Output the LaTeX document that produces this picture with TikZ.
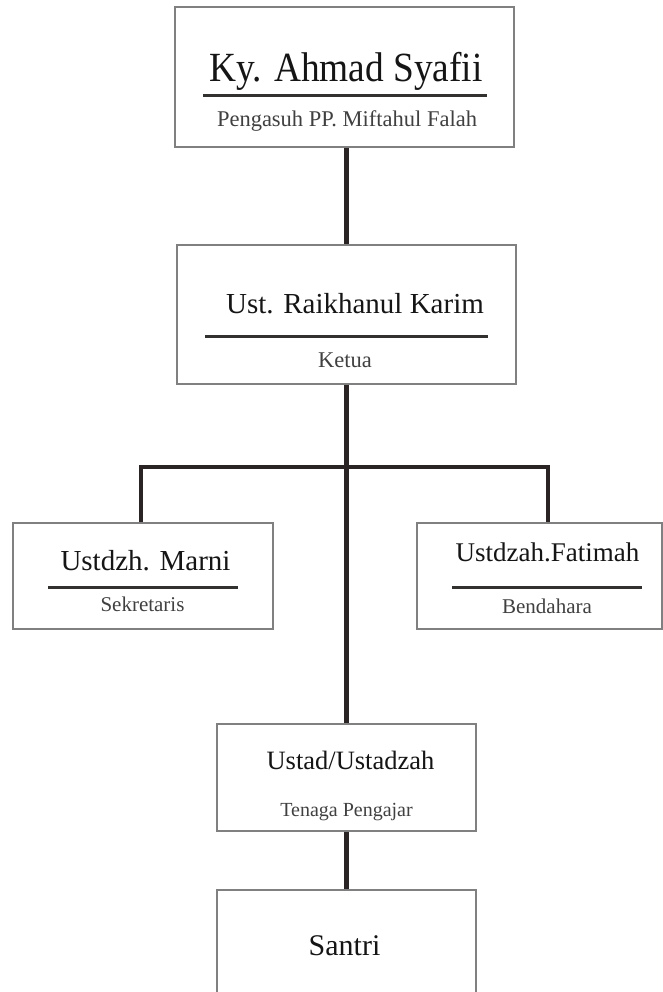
\documentclass[tikz,border=0pt]{standalone}
\usepackage{fontspec}
\usepackage{graphicx}
\setmainfont{Liberation Serif}
\definecolor{boxline}{HTML}{808080}
\definecolor{connline}{HTML}{2B2424}
\definecolor{ruleline}{HTML}{333030}
\definecolor{titletext}{HTML}{151515}
\definecolor{subtext}{HTML}{404040}
\tikzset{
  orgbox/.style={draw=boxline, line width=1.5pt, fill=white, rectangle, inner sep=0pt},
  conn/.style={draw=connline, line width=4.5pt, line join=miter},
  rulebar/.style={draw=ruleline, line width=3pt},
  ttl/.style={inner sep=0pt, anchor=base, text=titletext},
  sub/.style={inner sep=0pt, anchor=base, text=subtext},
}
\newcommand{\fs}[1]{\fontsize{#1}{#1}\selectfont}
\begin{document}
\begin{tikzpicture}[x=1pt,y=-1pt]
\clip (0,0) rectangle (663,992);
\fill[white] (0,0) rectangle (663,992);

% boxes
\node[orgbox, minimum width=339pt, minimum height=140pt] (b1) at (344.5,77) {};
\node[orgbox, minimum width=339pt, minimum height=139pt] (b2) at (346.5,314.5) {};
\node[orgbox, minimum width=260pt, minimum height=106pt] (lb) at (143,576) {};
\node[orgbox, minimum width=245pt, minimum height=106pt] (rb) at (539.5,576) {};
\node[orgbox, minimum width=259pt, minimum height=107pt] (ub) at (346.5,777.5) {};
\node[orgbox, minimum width=259pt, minimum height=124pt] (sb) at (346.5,952) {};

% connectors
\coordinate (busC) at (346.5,467);
\coordinate (busL) at (141,467);
\coordinate (busR) at (548,467);
\draw[conn] (b1.south -| b2.north) -- (b2.north);
\draw[conn] (b2.south) -- (ub.north);
\draw[conn] (busL |- lb.north) -- (busL) -- (busR) -- (busR |- rb.north);
\draw[conn] (ub.south) -- (sb.north);

% box 1
\node[ttl] (t1) at (346,82) {\fs{41.5}\scalebox{0.9}[1]{Ky. Ahmad Syafii}};
\coordinate (u1a) at (203,96); \coordinate (u1b) at (487,96);
\draw[rulebar] (u1a) -- (u1b);
\node[sub] (s1) at (347,127) {\fs{22.5}Pengasuh PP. Miftahul Falah};

% box 2
\node[ttl] (t2) at (355,313) {\fs{29}Ust. Raikhanul Karim};
\coordinate (u2a) at (205,336); \coordinate (u2b) at (488,336);
\draw[rulebar] (u2a) -- (u2b);
\node[sub] (s2) at (345,367) {\fs{22.5}Ketua};

% left box
\node[ttl] (t3) at (145.5,570) {\fs{29}Ustdzh. Marni};
\coordinate (u3a) at (48,587); \coordinate (u3b) at (238,587);
\draw[rulebar] (u3a) -- (u3b);
\node[sub] (s3) at (142.5,611) {\fs{21}Sekretaris};

% right box
\node[ttl] (t4) at (547.5,561) {\fs{27}Ustdzah.Fatimah};
\coordinate (u4a) at (452,587); \coordinate (u4b) at (642,587);
\draw[rulebar] (u4a) -- (u4b);
\node[sub] (s4) at (547,613) {\fs{21}Bendahara};

% ustad box
\node[ttl] (t5) at (350.5,769) {\fs{26.5}Ustad/Ustadzah};
\node[sub] (s5) at (346.5,816) {\fs{20}Tenaga Pengajar};

% santri box
\node[ttl] (t6) at (344.5,955) {\fs{30}Santri};
\end{tikzpicture}
\end{document}
